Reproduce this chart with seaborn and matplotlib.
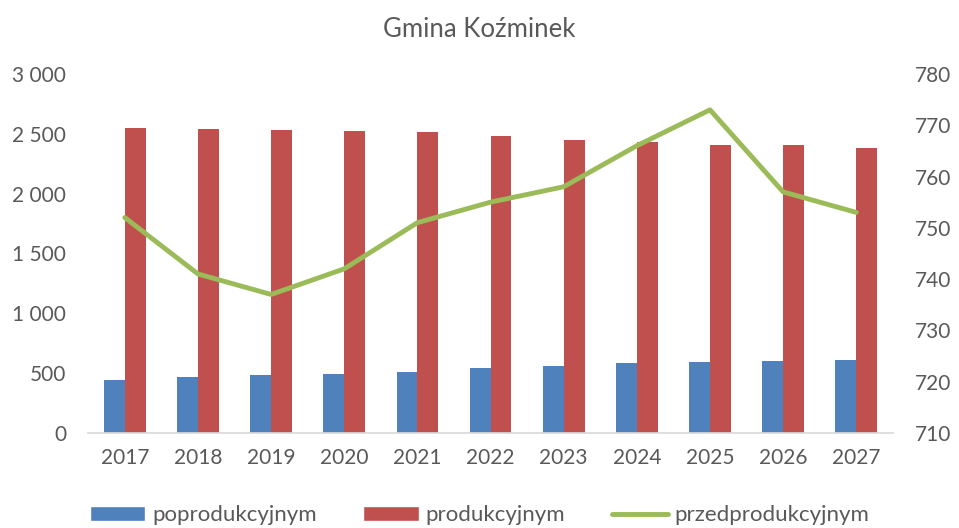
import pandas as pd
import numpy as np
import matplotlib
matplotlib.use("Agg")
import matplotlib.pyplot as plt
import seaborn as sns
from matplotlib.ticker import FuncFormatter
from matplotlib.patches import Patch
from matplotlib.lines import Line2D

# data
years = ['2017', '2018', '2019', '2020', '2021', '2022', '2023', '2024', '2025', '2026', '2027']
poprodukcyjnym = [442, 464, 483, 494, 506, 539, 558, 581, 589, 600, 611]
produkcyjnym = [2552, 2539, 2531, 2522, 2511, 2481, 2447, 2428, 2406, 2406, 2383]
przedprodukcyjnym = [752, 741, 737, 742, 751, 755, 758, 766, 773, 757, 753]

blue = '#4F81BD'
red = '#C0504D'
green = '#9BBB59'
grey = '#595959'

sns.set_theme(style='white')
plt.rcParams['font.family'] = ['Lato', 'DejaVu Sans']

df = pd.DataFrame({'Rok': years * 2,
                   'Wartość': poprodukcyjnym + produkcyjnym,
                   'Grupa': ['poprodukcyjnym'] * len(years) + ['produkcyjnym'] * len(years)})

fig = plt.figure(figsize=(9.59, 5.28), dpi=100)
ax = fig.add_axes([0.092, 0.18, 0.839, 0.68])

sns.barplot(data=df, x='Rok', y='Wartość', hue='Grupa', palette=[blue, red],
            width=0.57, saturation=1, legend=False, linewidth=0, ax=ax)
ax.set_xlim(-0.5, len(years) - 0.5)
ax.set_ylim(0, 3000)
ax.set_yticks(range(0, 3001, 500))
ax.yaxis.set_major_formatter(FuncFormatter(lambda v, p: f'{int(v):,}'.replace(',', ' ')))
ax.set_xlabel('')
ax.set_ylabel('')

ax2 = ax.twinx()
ax2.plot(np.arange(len(years)), przedprodukcyjnym, color=green, lw=3.5, solid_capstyle='round')
ax2.set_ylim(710, 780)
ax2.set_yticks(range(710, 781, 10))

for a in (ax, ax2):
    for s in a.spines.values():
        s.set_visible(False)
    a.tick_params(length=0, labelsize=15, colors=grey)
ax.spines['bottom'].set_visible(True)
ax.spines['bottom'].set_color('#D9D9D9')
ax.tick_params(axis='y', pad=16)
ax.tick_params(axis='x', pad=11)
ax2.tick_params(axis='y', pad=16)

fig.text(0.5, 0.945, 'Gmina Koźminek', ha='center', va='center', fontsize=18.5, color=grey)

handles = [Patch(facecolor=blue), Patch(facecolor=red), Line2D([0], [0], color=green, lw=3.5)]
labels = ['poprodukcyjnym', 'produkcyjnym', 'przedprodukcyjnym']
fig.legend(handles, labels, loc='center', bbox_to_anchor=(0.5, 0.024), ncol=3, frameon=False,
           fontsize=16, labelcolor=grey, handlelength=2.5, handleheight=0.6,
           handletextpad=0.3, columnspacing=2.1)

fig.savefig('out.png', dpi=100)
